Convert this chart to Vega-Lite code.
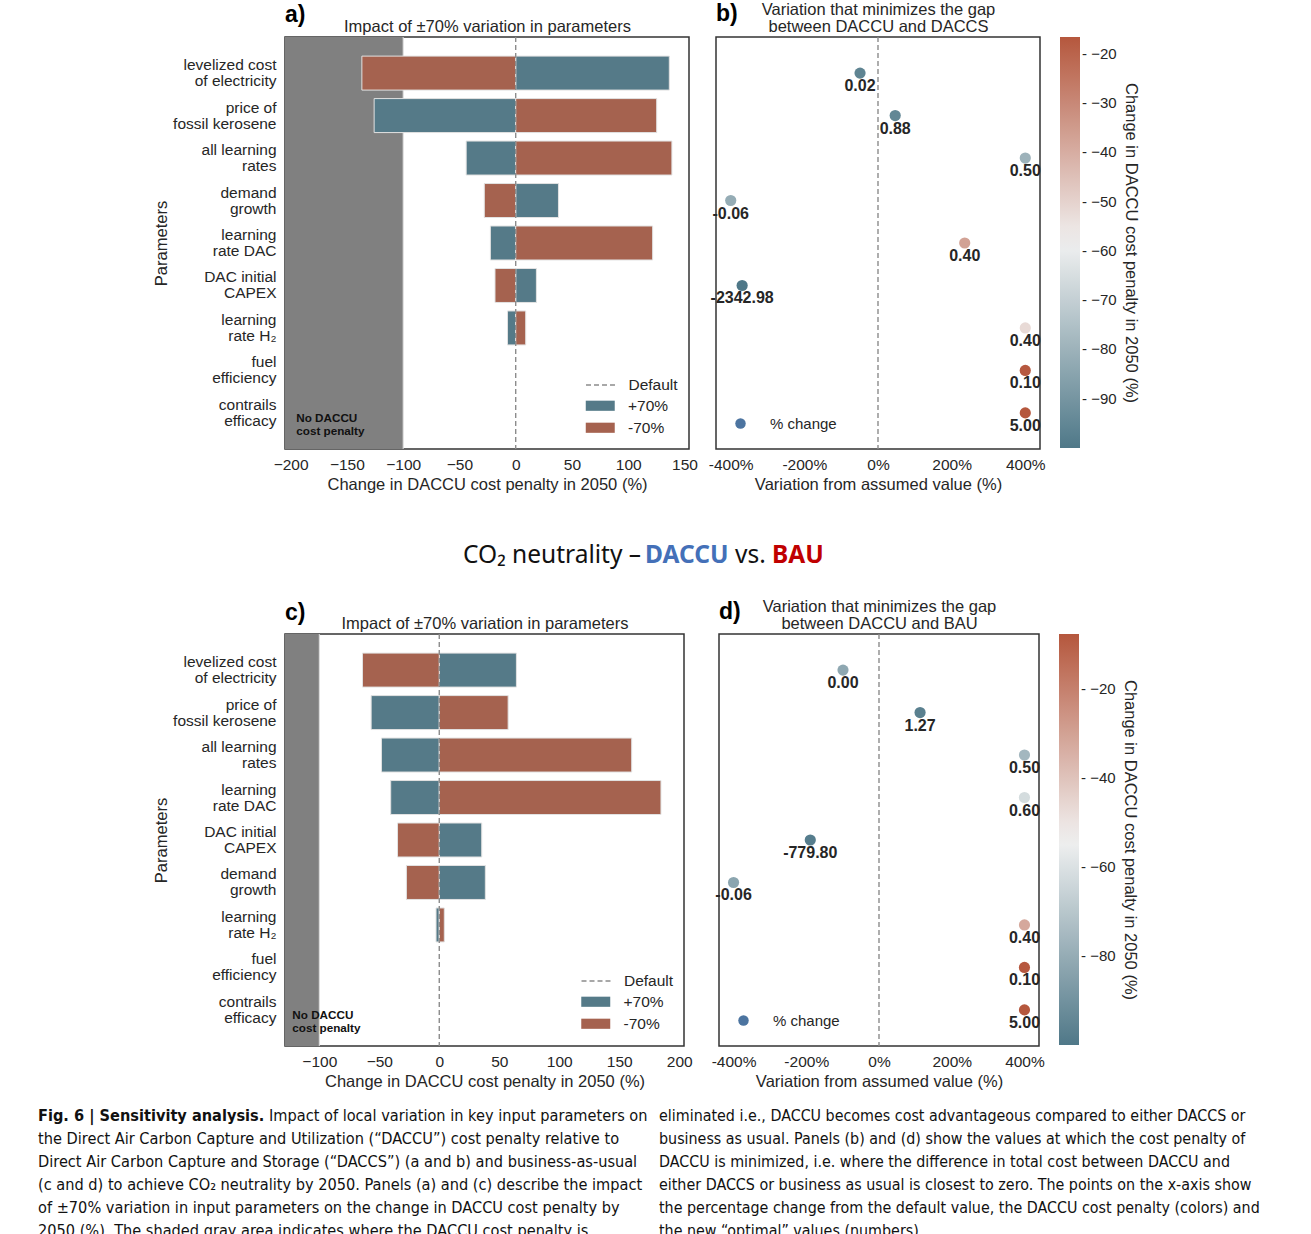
{
  "$schema": "https://vega.github.io/schema/vega-lite/v6.json",
  "padding": {"left": 37, "top": 0, "right": 5, "bottom": 5},
  "background": "white",
  "config": {
    "font": "Liberation Sans",
    "view": {"stroke": "#333333", "strokeWidth": 1.5},
    "axis": {"labelFont": "Liberation Sans", "titleFont": "Liberation Sans", "labelColor": "#262626", "titleColor": "#262626", "titleFontWeight": "normal", "labelFontSize": 15.5, "titleFontSize": 16.5, "grid": false, "ticks": false, "domain": false},
    "legend": {"labelFont": "Liberation Sans", "labelFontSize": 15.5, "labelColor": "#262626", "titleFont": "Liberation Sans", "titleColor": "#262626"},
    "title": {"font": "Liberation Sans", "color": "#000000"}
  },
  "datasets": {
    "a_bars": [
      {"param": "levelized cost|of electricity", "dir": "+70%", "value": 136.5},
      {"param": "levelized cost|of electricity", "dir": "-70%", "value": -136.7},
      {"param": "price of|fossil kerosene", "dir": "+70%", "value": -125.8},
      {"param": "price of|fossil kerosene", "dir": "-70%", "value": 125.3},
      {"param": "all learning|rates", "dir": "+70%", "value": -44},
      {"param": "all learning|rates", "dir": "-70%", "value": 138.8},
      {"param": "demand|growth", "dir": "+70%", "value": 38},
      {"param": "demand|growth", "dir": "-70%", "value": -27.9},
      {"param": "learning|rate DAC", "dir": "+70%", "value": -22.5},
      {"param": "learning|rate DAC", "dir": "-70%", "value": 121.7},
      {"param": "DAC initial|CAPEX", "dir": "+70%", "value": 18.4},
      {"param": "DAC initial|CAPEX", "dir": "-70%", "value": -18.4},
      {"param": "learning|rate H₂", "dir": "+70%", "value": -7.3},
      {"param": "learning|rate H₂", "dir": "-70%", "value": 8.9}
    ],
    "b_pts": [
      {"param": "levelized cost|of electricity", "change": -48.8, "penalty": -96, "label": "0.02"},
      {"param": "price of|fossil kerosene", "change": 46.7, "penalty": -95, "label": "0.88"},
      {"param": "all learning|rates", "change": 400, "penalty": -80, "label": "0.50"},
      {"param": "demand|growth", "change": -400, "penalty": -82, "label": "-0.06"},
      {"param": "learning|rate DAC", "change": 235.5, "penalty": -37, "label": "0.40"},
      {"param": "DAC initial|CAPEX", "change": -369, "penalty": -100, "label": "-2342.98"},
      {"param": "learning|rate H₂", "change": 400, "penalty": -52, "label": "0.40"},
      {"param": "fuel|efficiency", "change": 400, "penalty": -17, "label": "0.10"},
      {"param": "contrails|efficacy", "change": 400, "penalty": -16.6, "label": "5.00"}
    ],
    "c_bars": [
      {"param": "levelized cost|of electricity", "dir": "+70%", "value": 64.3},
      {"param": "levelized cost|of electricity", "dir": "-70%", "value": -64},
      {"param": "price of|fossil kerosene", "dir": "+70%", "value": -56.8},
      {"param": "price of|fossil kerosene", "dir": "-70%", "value": 57.4},
      {"param": "all learning|rates", "dir": "+70%", "value": -48.2},
      {"param": "all learning|rates", "dir": "-70%", "value": 160.4},
      {"param": "learning|rate DAC", "dir": "+70%", "value": -40.5},
      {"param": "learning|rate DAC", "dir": "-70%", "value": 184.8},
      {"param": "DAC initial|CAPEX", "dir": "+70%", "value": 35.4},
      {"param": "DAC initial|CAPEX", "dir": "-70%", "value": -34.8},
      {"param": "demand|growth", "dir": "+70%", "value": 38.4},
      {"param": "demand|growth", "dir": "-70%", "value": -27.4},
      {"param": "learning|rate H₂", "dir": "+70%", "value": -2.7},
      {"param": "learning|rate H₂", "dir": "-70%", "value": 4.2}
    ],
    "d_pts": [
      {"param": "levelized cost|of electricity", "change": -99, "penalty": -82, "label": "0.00"},
      {"param": "price of|fossil kerosene", "change": 112.9, "penalty": -97, "label": "1.27"},
      {"param": "all learning|rates", "change": 400, "penalty": -76, "label": "0.50"},
      {"param": "learning|rate DAC", "change": 400, "penalty": -62, "label": "0.60"},
      {"param": "DAC initial|CAPEX", "change": -189, "penalty": -98, "label": "-779.80"},
      {"param": "demand|growth", "change": -400, "penalty": -83, "label": "-0.06"},
      {"param": "learning|rate H₂", "change": 400, "penalty": -32, "label": "0.40"},
      {"param": "fuel|efficiency", "change": 400, "penalty": -8, "label": "0.10"},
      {"param": "contrails|efficacy", "change": 400, "penalty": -7.6, "label": "5.00"}
    ]
  },
  "vconcat": [
    {
      "hconcat": [
        {"data": {"values": [{}]}, "mark": {"type": "text"}, "encoding": {"text": {"value": ""}}, "width": 113, "height": 1, "view": {"stroke": "transparent", "fill": "transparent"}},
        {
          "vconcat": [
            {
              "hconcat": [
                {
                  "width": 404, "height": 412,
                  "title": {"text": "a)", "anchor": "start", "frame": "group", "fontSize": 23, "fontWeight": "bold", "offset": -9},
                  "layer": [
                    {"data": {"values": [{}]}, "mark": {"type": "rect", "color": "#808080"},
                     "encoding": {"x": {"datum": -205, "type": "quantitative", "scale": {"domain": [-205, 154], "nice": false, "zero": false}, "axis": null}, "x2": {"datum": -100}}},
                    {"data": {"values": [{}]}, "mark": {"type": "rule", "color": "#dedede", "strokeWidth": 1},
                     "encoding": {"x": {"datum": -100, "type": "quantitative", "scale": {"domain": [-205, 154], "nice": false, "zero": false}, "axis": null}}},
                    {"data": {"name": "a_bars"}, "mark": {"type": "bar", "stroke": "#e2e2e2", "strokeWidth": 1},
                     "encoding": {
                       "y": {"field": "param", "type": "nominal", "scale": {"domain": ["levelized cost|of electricity", "price of|fossil kerosene", "all learning|rates", "demand|growth", "learning|rate DAC", "DAC initial|CAPEX", "learning|rate H₂", "fuel|efficiency", "contrails|efficacy"], "paddingInner": 0.2, "paddingOuter": 0.45},
                             "axis": {"title": "Parameters", "labelExpr": "split(datum.label, '|')", "labelLineHeight": 16, "labelPadding": 9, "titlePadding": 3, "labelBaseline": "middle", "labelOffset": -8}},
                       "x": {"field": "value", "type": "quantitative", "stack": null, "scale": {"domain": [-205, 154], "nice": false, "zero": false},
                             "axis": {"orient": "bottom", "values": [-200, -150, -100, -50, 0, 50, 100, 150], "labelPadding": 8, "titlePadding": 4, "title": "Change in DACCU cost penalty in 2050 (%)"}},
                       "color": {"field": "dir", "type": "nominal", "scale": {"domain": ["+70%", "-70%"], "range": ["#557a88", "#a5624f"]},
                                 "legend": {"orient": "none", "legendX": 307.5, "legendY": 361, "title": null, "symbolType": "M-2,-0.7H2V0.7H-2Z", "symbolSize": 210, "symbolStrokeWidth": 0, "labelOffset": 20, "rowPadding": 5, "labelFontSize": 15.5}}
                     }},
                    {"data": {"values": [{}]}, "mark": {"type": "rule", "color": "#8c8c8c", "strokeWidth": 1.4},
                     "encoding": {"x": {"datum": 0, "type": "quantitative", "scale": {"domain": [-205, 154], "nice": false, "zero": false},
                                        "axis": {"orient": "top", "labels": false, "ticks": false, "domain": false, "title": "Impact of ±70% variation in parameters", "titlePadding": 3}},
                                  "strokeDash": {"datum": "Default", "type": "nominal", "scale": {"range": [[5, 3]]},
                                                 "legend": {"orient": "none", "legendX": 307.5, "legendY": 340, "title": null, "symbolType": "M-2,0H2", "symbolSize": 210, "symbolStrokeColor": "#8c8c8c", "symbolStrokeWidth": 1.5, "labelOffset": 20, "rowPadding": 0, "labelFontSize": 15.5}}}},
                    {"data": {"values": [{}]}, "mark": {"type": "text", "align": "left", "baseline": "middle", "fontWeight": "bold", "fontSize": 11.7, "lineHeight": 13, "color": "#111111", "dy": 5},
                     "encoding": {"x": {"datum": -195, "type": "quantitative", "scale": {"domain": [-205, 154], "nice": false, "zero": false}, "axis": null},
                                  "y": {"datum": "contrails|efficacy", "type": "nominal", "axis": {"title": "Parameters", "labelExpr": "split(datum.label, '|')", "labelLineHeight": 16, "labelPadding": 9, "titlePadding": 3, "labelBaseline": "middle", "labelOffset": -8}},
                                  "text": {"value": ["No DACCU", "cost penalty"]}}}
                  ],
                  "resolve": {"axis": {"x": "independent"}}
                },
                {
                  "width": 324, "height": 412,
                  "title": {"text": "b)", "anchor": "start", "frame": "group", "fontSize": 23, "fontWeight": "bold", "offset": -24},
                  "layer": [
                    {"data": {"values": [{}]}, "mark": {"type": "rule", "color": "#8c8c8c", "strokeDash": [5, 3], "strokeWidth": 1.4},
                     "encoding": {"x": {"datum": 0, "type": "quantitative", "scale": {"domain": [-440, 440], "nice": false, "zero": false},
                                        "axis": {"orient": "top", "labels": false, "ticks": false, "domain": false, "title": ["Variation that minimizes the gap", "between DACCU and DACCS"], "titlePadding": 3, "titleLineHeight": 16.5}}}},
                    {"data": {"name": "b_pts"}, "mark": {"type": "point", "filled": true, "size": 125, "opacity": 1},
                     "encoding": {
                       "x": {"field": "change", "type": "quantitative", "scale": {"domain": [-440, 440], "nice": false, "zero": false},
                             "axis": {"orient": "bottom", "values": [-400, -200, 0, 200, 400], "labelExpr": "datum.value + '%'", "labelPadding": 8, "titlePadding": 4, "title": "Variation from assumed value (%)"}},
                       "y": {"field": "param", "type": "nominal", "scale": {"domain": ["levelized cost|of electricity", "price of|fossil kerosene", "all learning|rates", "demand|growth", "learning|rate DAC", "DAC initial|CAPEX", "learning|rate H₂", "fuel|efficiency", "contrails|efficacy"], "padding": 0.85}, "axis": null},
                       "color": {"field": "penalty", "type": "quantitative", "scale": {"domain": [-100, -58.3, -16.6], "range": ["#4f7888", "#f1f1f1", "#b5573d"], "interpolate": "rgb"},
                                 "legend": {"orient": "right", "offset": 20, "direction": "vertical", "gradientLength": 411, "gradientThickness": 20, "gradientStrokeWidth": 0, "values": [-20, -30, -40, -50, -60, -70, -80, -90], "labelExpr": "'- ' + datum.label", "labelFontSize": 15, "labelOffset": 2,
                                            "title": "Change in DACCU cost penalty in 2050 (%)", "titleOrient": "right", "titleAngle": 90, "titleFontSize": 16.5, "titleFontWeight": "normal", "titleAnchor": "middle", "titlePadding": 6, "titleLimit": 600}},
                       "shape": {"datum": "% change", "type": "nominal", "scale": {"range": ["circle"]},
                                 "legend": {"orient": "bottom-left", "offset": 17, "title": null, "symbolSize": 110, "labelOffset": 22, "labelFontSize": 15, "symbolFillColor": "#4c74a0", "symbolStrokeWidth": 0}}
                     }},
                    {"data": {"name": "b_pts"}, "mark": {"type": "text", "fontWeight": "bold", "fontSize": 16, "dy": 13, "color": "#262626", "baseline": "middle"},
                     "encoding": {"x": {"field": "change", "type": "quantitative", "scale": {"domain": [-440, 440], "nice": false, "zero": false}, "axis": null},
                                  "y": {"field": "param", "type": "nominal", "axis": null},
                                  "text": {"field": "label", "type": "nominal"}}}
                  ],
                  "resolve": {"axis": {"x": "independent"}}
                }
              ],
              "spacing": 27,
              "bounds": "flush",
              "resolve": {"scale": {"color": "independent", "shape": "independent", "strokeDash": "independent", "x": "independent", "y": "independent"}, "legend": {"color": "independent", "shape": "independent", "strokeDash": "independent"}}
            },
            {
              "hconcat": [
                {"data": {"values": [{}]}, "mark": {"type": "text"}, "encoding": {"text": {"value": ""}}, "width": 177, "height": 1, "view": {"stroke": "transparent", "fill": "transparent"}},
                {
                  "hconcat": [
                    {"data": {"values": [{}]}, "mark": {"type": "text"}, "encoding": {"text": {"value": ""}}, "width": 1, "height": 15, "view": {"stroke": null},
                     "title": {"text": "CO₂ neutrality –", "orient": "bottom", "anchor": "start", "font": "Noto Sans", "fontSize": 24.5, "fontWeight": "normal", "color": "#111111", "offset": 0}},
                    {
                      "hconcat": [
                        {"data": {"values": [{}]}, "mark": {"type": "text"}, "encoding": {"text": {"value": ""}}, "width": 1, "height": 15, "view": {"stroke": null},
                         "title": {"text": "DACCU", "orient": "bottom", "anchor": "start", "font": "Noto Sans", "fontSize": 24.5, "fontWeight": "bold", "color": "#4470b8", "offset": 0}},
                        {"data": {"values": [{}]}, "mark": {"type": "text"}, "encoding": {"text": {"value": ""}}, "width": 1, "height": 15, "view": {"stroke": null},
                         "title": {"text": "vs.", "orient": "bottom", "anchor": "start", "font": "Noto Sans", "fontSize": 24.5, "fontWeight": "normal", "color": "#111111", "offset": 0}},
                        {"data": {"values": [{}]}, "mark": {"type": "text"}, "encoding": {"text": {"value": ""}}, "width": 1, "height": 15, "view": {"stroke": null},
                         "title": {"text": "BAU", "orient": "bottom", "anchor": "start", "font": "Noto Sans", "fontSize": 24.5, "fontWeight": "bold", "color": "#c00000", "offset": 0}}
                      ],
                      "spacing": 6
                    }
                  ],
                  "spacing": 4
                }
              ],
              "spacing": 0
            },
            {
              "hconcat": [
                {
                  "width": 399, "height": 412,
                  "title": {"text": "c)", "anchor": "start", "frame": "group", "fontSize": 23, "fontWeight": "bold", "offset": -10},
                  "layer": [
                    {"data": {"values": [{}]}, "mark": {"type": "rect", "color": "#808080"},
                     "encoding": {"x": {"datum": -128.6, "type": "quantitative", "scale": {"domain": [-128.6, 204], "nice": false, "zero": false}, "axis": null}, "x2": {"datum": -100}}},
                    {"data": {"values": [{}]}, "mark": {"type": "rule", "color": "#dedede", "strokeWidth": 1},
                     "encoding": {"x": {"datum": -100, "type": "quantitative", "scale": {"domain": [-128.6, 204], "nice": false, "zero": false}, "axis": null}}},
                    {"data": {"name": "c_bars"}, "mark": {"type": "bar", "stroke": "#e2e2e2", "strokeWidth": 1},
                     "encoding": {
                       "y": {"field": "param", "type": "nominal", "scale": {"domain": ["levelized cost|of electricity", "price of|fossil kerosene", "all learning|rates", "learning|rate DAC", "DAC initial|CAPEX", "demand|growth", "learning|rate H₂", "fuel|efficiency", "contrails|efficacy"], "paddingInner": 0.2, "paddingOuter": 0.45},
                             "axis": {"title": "Parameters", "labelExpr": "split(datum.label, '|')", "labelLineHeight": 16, "labelPadding": 9, "titlePadding": 3, "labelBaseline": "middle", "labelOffset": -8}},
                       "x": {"field": "value", "type": "quantitative", "stack": null, "scale": {"domain": [-128.6, 204], "nice": false, "zero": false},
                             "axis": {"orient": "bottom", "values": [-100, -50, 0, 50, 100, 150, 200], "labelPadding": 8, "titlePadding": 4, "title": "Change in DACCU cost penalty in 2050 (%)"}},
                       "color": {"field": "dir", "type": "nominal", "scale": {"domain": ["+70%", "-70%"], "range": ["#557a88", "#a5624f"]},
                                 "legend": {"orient": "none", "legendX": 303, "legendY": 360, "title": null, "symbolType": "M-2,-0.7H2V0.7H-2Z", "symbolSize": 210, "symbolStrokeWidth": 0, "labelOffset": 20, "rowPadding": 5, "labelFontSize": 15.5}}
                     }},
                    {"data": {"values": [{}]}, "mark": {"type": "rule", "color": "#8c8c8c", "strokeWidth": 1.4},
                     "encoding": {"x": {"datum": 0, "type": "quantitative", "scale": {"domain": [-128.6, 204], "nice": false, "zero": false},
                                        "axis": {"orient": "top", "labels": false, "ticks": false, "domain": false, "title": "Impact of ±70% variation in parameters", "titlePadding": 3}},
                                  "strokeDash": {"datum": "Default", "type": "nominal", "scale": {"range": [[5, 3]]},
                                                 "legend": {"orient": "none", "legendX": 303, "legendY": 339, "title": null, "symbolType": "M-2,0H2", "symbolSize": 210, "symbolStrokeColor": "#8c8c8c", "symbolStrokeWidth": 1.5, "labelOffset": 20, "rowPadding": 0, "labelFontSize": 15.5}}}},
                    {"data": {"values": [{}]}, "mark": {"type": "text", "align": "left", "baseline": "middle", "fontWeight": "bold", "fontSize": 11.7, "lineHeight": 13, "color": "#111111", "dy": 5},
                     "encoding": {"x": {"datum": -122.5, "type": "quantitative", "scale": {"domain": [-128.6, 204], "nice": false, "zero": false}, "axis": null},
                                  "y": {"datum": "contrails|efficacy", "type": "nominal", "axis": {"title": "Parameters", "labelExpr": "split(datum.label, '|')", "labelLineHeight": 16, "labelPadding": 9, "titlePadding": 3, "labelBaseline": "middle", "labelOffset": -8}},
                                  "text": {"value": ["No DACCU", "cost penalty"]}}}
                  ],
                  "resolve": {"axis": {"x": "independent"}}
                },
                {
                  "width": 320, "height": 412,
                  "title": {"text": "d)", "anchor": "start", "frame": "group", "fontSize": 23, "fontWeight": "bold", "offset": -25},
                  "layer": [
                    {"data": {"values": [{}]}, "mark": {"type": "rule", "color": "#8c8c8c", "strokeDash": [5, 3], "strokeWidth": 1.4},
                     "encoding": {"x": {"datum": 0, "type": "quantitative", "scale": {"domain": [-440, 440], "nice": false, "zero": false},
                                        "axis": {"orient": "top", "labels": false, "ticks": false, "domain": false, "title": ["Variation that minimizes the gap", "between DACCU and BAU"], "titlePadding": 3, "titleLineHeight": 16.5}}}},
                    {"data": {"name": "d_pts"}, "mark": {"type": "point", "filled": true, "size": 125, "opacity": 1},
                     "encoding": {
                       "x": {"field": "change", "type": "quantitative", "scale": {"domain": [-440, 440], "nice": false, "zero": false},
                             "axis": {"orient": "bottom", "values": [-400, -200, 0, 200, 400], "labelExpr": "datum.value + '%'", "labelPadding": 8, "titlePadding": 4, "title": "Variation from assumed value (%)"}},
                       "y": {"field": "param", "type": "nominal", "scale": {"domain": ["levelized cost|of electricity", "price of|fossil kerosene", "all learning|rates", "learning|rate DAC", "DAC initial|CAPEX", "demand|growth", "learning|rate H₂", "fuel|efficiency", "contrails|efficacy"], "padding": 0.85}, "axis": null},
                       "color": {"field": "penalty", "type": "quantitative", "scale": {"domain": [-100, -53.8, -7.6], "range": ["#4f7888", "#f1f1f1", "#b5573d"], "interpolate": "rgb"},
                                 "legend": {"orient": "right", "offset": 20, "direction": "vertical", "gradientLength": 411, "gradientThickness": 20, "gradientStrokeWidth": 0, "values": [-20, -40, -60, -80], "labelExpr": "'- ' + datum.label", "labelFontSize": 15, "labelOffset": 2,
                                            "title": "Change in DACCU cost penalty in 2050 (%)", "titleOrient": "right", "titleAngle": 90, "titleFontSize": 16.5, "titleFontWeight": "normal", "titleAnchor": "middle", "titlePadding": 6, "titleLimit": 600}},
                       "shape": {"datum": "% change", "type": "nominal", "scale": {"range": ["circle"]},
                                 "legend": {"orient": "bottom-left", "offset": 17, "title": null, "symbolSize": 110, "labelOffset": 22, "labelFontSize": 15, "symbolFillColor": "#4c74a0", "symbolStrokeWidth": 0}}
                     }},
                    {"data": {"name": "d_pts"}, "mark": {"type": "text", "fontWeight": "bold", "fontSize": 16, "dy": 13, "color": "#262626", "baseline": "middle"},
                     "encoding": {"x": {"field": "change", "type": "quantitative", "scale": {"domain": [-440, 440], "nice": false, "zero": false}, "axis": null},
                                  "y": {"field": "param", "type": "nominal", "axis": null},
                                  "text": {"field": "label", "type": "nominal"}}}
                  ],
                  "resolve": {"axis": {"x": "independent"}}
                }
              ],
              "spacing": 35,
              "bounds": "flush",
              "resolve": {"scale": {"color": "independent", "shape": "independent", "strokeDash": "independent", "x": "independent", "y": "independent"}, "legend": {"color": "independent", "shape": "independent", "strokeDash": "independent"}}
            }
          ],
          "spacing": 29,
          "resolve": {"scale": {"color": "independent", "shape": "independent", "strokeDash": "independent"}, "legend": {"color": "independent", "shape": "independent", "strokeDash": "independent"}}
        }
      ],
      "spacing": 0,
      "resolve": {"scale": {"color": "independent", "shape": "independent", "strokeDash": "independent"}, "legend": {"color": "independent", "shape": "independent", "strokeDash": "independent"}}
    },
    {
      "hconcat": [
        {
          "vconcat": [
            {
              "hconcat": [
                {"data": {"values": [{}]}, "mark": {"type": "text"}, "encoding": {"text": {"value": ""}}, "width": 1, "height": 1, "view": {"stroke": null},
                 "title": {"text": "Fig. 6 | Sensitivity analysis.", "orient": "bottom", "anchor": "start", "font": "DejaVu Sans Condensed", "fontSize": 16.2, "fontWeight": "bold", "color": "#111111", "offset": 0}},
                {"data": {"values": [{}]}, "mark": {"type": "text"}, "encoding": {"text": {"value": ""}}, "width": 1, "height": 1, "view": {"stroke": null},
                 "title": {"text": "Impact of local variation in key input parameters on", "orient": "bottom", "anchor": "start", "font": "DejaVu Sans Condensed", "fontSize": 16.2, "fontWeight": "normal", "color": "#111111", "offset": 0}}
              ],
              "spacing": 4
            },
            {"data": {"values": [{}]}, "mark": {"type": "text"}, "encoding": {"text": {"value": ""}}, "width": 1, "height": 1, "view": {"stroke": null},
             "title": {"text": ["the Direct Air Carbon Capture and Utilization (“DACCU”) cost penalty relative to", "Direct Air Carbon Capture and Storage (“DACCS”) (a and b) and business-as-usual", "(c and d) to achieve CO₂ neutrality by 2050. Panels (a) and (c) describe the impact", "of ±70% variation in input parameters on the change in DACCU cost penalty by", "2050 (%). The shaded gray area indicates where the DACCU cost penalty is"], "orient": "bottom", "anchor": "start", "font": "DejaVu Sans Condensed", "fontSize": 16.2, "lineHeight": 23, "fontWeight": "normal", "color": "#111111", "offset": 0}}
          ],
          "spacing": -5
        },
        {"data": {"values": [{}]}, "mark": {"type": "text"}, "encoding": {"text": {"value": ""}}, "width": 1, "height": 1, "view": {"stroke": null},
         "title": {"text": ["eliminated i.e., DACCU becomes cost advantageous compared to either DACCS or", "business as usual. Panels (b) and (d) show the values at which the cost penalty of", "DACCU is minimized, i.e. where the difference in total cost between DACCU and", "either DACCS or business as usual is closest to zero. The points on the x-axis show", "the percentage change from the default value, the DACCU cost penalty (colors) and", "the new “optimal” values (numbers)."], "orient": "bottom", "anchor": "start", "font": "DejaVu Sans Condensed", "fontSize": 15.9, "lineHeight": 23, "fontWeight": "normal", "color": "#111111", "offset": 0}}
      ],
      "spacing": 11
    }
  ],
  "spacing": 5,
  "resolve": {"scale": {"color": "independent", "shape": "independent", "strokeDash": "independent"}, "legend": {"color": "independent", "shape": "independent", "strokeDash": "independent"}}
}
